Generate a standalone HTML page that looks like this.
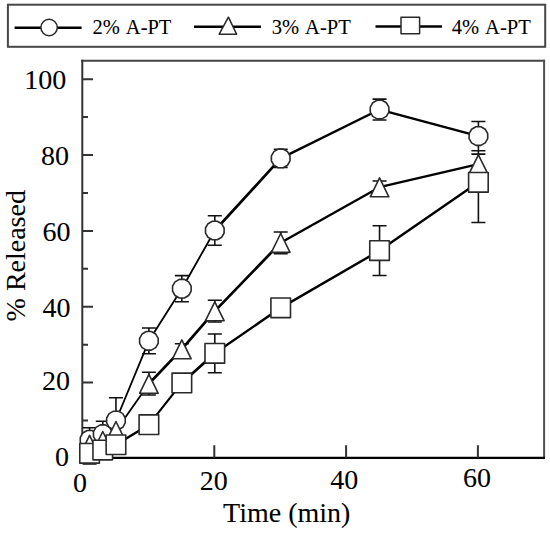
<!DOCTYPE html>
<html><head><meta charset="utf-8"><style>
html,body{margin:0;padding:0;background:#fff;}
svg{display:block;}
text{font-family:"Liberation Serif",serif;fill:#000;stroke:#000;stroke-width:0.08px;}
</style></head><body>
<svg width="550" height="533" viewBox="0 0 550 533">
<rect width="550" height="533" fill="#fff"/>
<rect x="7.9" y="4.7" width="537.3" height="42.1" fill="none" stroke="#474747" stroke-width="2"/>
<path d="M14.6 27.7H81.6M194 26.7H260.9M375.5 26.5H442" stroke="#000" stroke-width="2.6"/>
<circle cx="49.1" cy="27.5" r="8.2" fill="#fff" stroke="#2a2a2a" stroke-width="1.5"/>
<path d="M228.4 17.2L236.6 34.2H219.2Z" fill="#fff" stroke="#2a2a2a" stroke-width="1.5" stroke-linejoin="round"/>
<rect x="401" y="17.2" width="18.6" height="16.6" fill="#fff" stroke="#2a2a2a" stroke-width="1.5" stroke-linejoin="round"/>
<g font-size="20.5px" word-spacing="2px" style="stroke-width:0.15px"><text x="92.5" y="33.8">2% A-PT</text><text x="271.8" y="33.8">3% A-PT</text><text x="451.8" y="33.8">4% A-PT</text></g>
<g font-size="28px">
<text x="66.3" y="89.0" text-anchor="end">100</text>
<text x="69.1" y="165.2" text-anchor="end">80</text>
<text x="70.5" y="241.1" text-anchor="end">60</text>
<text x="70.5" y="316.6" text-anchor="end">40</text>
<text x="70.0" y="390.2" text-anchor="end">20</text>
<text x="69.1" y="466.1" text-anchor="end">0</text>
<text x="80.0" y="492.2" text-anchor="middle">0</text>
<text x="213.8" y="489.8" text-anchor="middle">20</text>
<text x="344.3" y="488.5" text-anchor="middle">40</text>
<text x="477.05" y="487.2" text-anchor="middle">60</text>
<text x="286.7" y="521.6" text-anchor="middle">Time (min)</text>
<text transform="translate(24.5 255.75) rotate(-90)" text-anchor="middle">% Released</text>
</g>
<path d="M81.3 60.8H545.1" stroke="#444" stroke-width="2"/>
<path d="M544.1 59.8V458" stroke="#505050" stroke-width="2"/>
<path d="M82.3 59.8V458" stroke="#333" stroke-width="2"/>
<path d="M81.3 457.9H545" stroke="#000" stroke-width="2.4"/>
<path d="M82.3 382.56H93M82.3 306.72H93M82.3 230.88H93M82.3 155.04H93M82.3 79.20H93M82.3 420.48H88M82.3 344.64H88M82.3 268.80H88M82.3 192.96H88M82.3 117.12H88M214.30 457.7V445.3M346.10 457.7V445.3M477.90 457.7V445.3" stroke="#333" stroke-width="2" fill="none"/>
<path d="M89.59 427.68V451.95M82.59 427.68H96.59M82.59 451.95H96.59M102.77 421.24V447.02M95.77 421.24H109.77M95.77 447.02H109.77M115.95 397.73V443.23M108.95 397.73H122.95M108.95 443.23H122.95M148.90 327.96V353.74M141.90 327.96H155.90M141.90 353.74H155.90M181.85 275.66V301.75M174.85 275.66H188.85M174.85 301.75H188.85M214.80 215.71V245.29M207.80 215.71H221.80M207.80 245.29H221.80M280.70 149.35V167.55M273.70 149.35H287.70M273.70 167.55H287.70M379.55 99.11V119.96M372.55 99.11H386.55M372.55 119.96H386.55M478.40 121.48V150.68M471.40 121.48H485.40M471.40 150.68H485.40M148.90 372.32V395.07M141.90 372.32H155.90M141.90 395.07H155.90M181.85 343.81V354.58M174.85 343.81H188.85M174.85 354.58H188.85M214.80 300.20V321.96M207.80 300.20H221.80M207.80 321.96H221.80M280.70 231.98V253.59M273.70 231.98H287.70M273.70 253.59H287.70M379.55 181.02V193.38M372.55 181.02H386.55M372.55 193.38H386.55M478.40 154.09V174.11M471.40 154.09H485.40M471.40 174.11H485.40M89.59 442.74V463.97M82.59 442.74H96.59M82.59 463.97H96.59M214.80 334.02V372.70M207.80 334.02H221.80M207.80 372.70H221.80M379.55 225.76V275.44M372.55 225.76H386.55M372.55 275.44H386.55M478.40 142.15V222.54M471.40 142.15H485.40M471.40 222.54H485.40" stroke="#111" stroke-width="1.6" fill="none"/>
<path d="M89.59 439.82L102.77 434.13" stroke="#000" stroke-width="2.4" stroke-linecap="round"/>
<path d="M102.77 434.13L115.95 420.48" stroke="#000" stroke-width="2.7" stroke-linecap="round"/>
<path d="M115.95 420.48L148.90 340.85" stroke="#000" stroke-width="1.8" stroke-linecap="round"/>
<path d="M148.90 340.85L181.85 288.71" stroke="#000" stroke-width="1.8" stroke-linecap="round"/>
<path d="M181.85 288.71L214.80 230.50" stroke="#000" stroke-width="1.8" stroke-linecap="round"/>
<path d="M214.80 230.50L280.70 158.45" stroke="#000" stroke-width="2.7" stroke-linecap="round"/>
<path d="M280.70 158.45L379.55 109.54" stroke="#000" stroke-width="2.4" stroke-linecap="round"/>
<path d="M379.55 109.54L478.40 136.08" stroke="#000" stroke-width="2.4" stroke-linecap="round"/>
<path d="M89.59 444.71L102.77 440.81" stroke="#000" stroke-width="2.4" stroke-linecap="round"/>
<path d="M102.77 440.81L115.95 430.79" stroke="#000" stroke-width="2.7" stroke-linecap="round"/>
<path d="M115.95 430.79L148.90 383.70" stroke="#000" stroke-width="1.8" stroke-linecap="round"/>
<path d="M148.90 383.70L181.85 349.19" stroke="#000" stroke-width="2.7" stroke-linecap="round"/>
<path d="M181.85 349.19L214.80 311.08" stroke="#000" stroke-width="2.7" stroke-linecap="round"/>
<path d="M214.80 311.08L280.70 242.79" stroke="#000" stroke-width="2.7" stroke-linecap="round"/>
<path d="M280.70 242.79L379.55 187.20" stroke="#000" stroke-width="2.4" stroke-linecap="round"/>
<path d="M379.55 187.20L478.40 164.10" stroke="#000" stroke-width="2.4" stroke-linecap="round"/>
<path d="M89.59 453.36L102.77 450.06" stroke="#000" stroke-width="2.4" stroke-linecap="round"/>
<path d="M102.77 450.06L115.95 444.75" stroke="#000" stroke-width="2.4" stroke-linecap="round"/>
<path d="M115.95 444.75L148.90 424.65" stroke="#000" stroke-width="2.4" stroke-linecap="round"/>
<path d="M148.90 424.65L181.85 382.94" stroke="#000" stroke-width="2.2" stroke-linecap="round"/>
<path d="M181.85 382.94L214.80 353.36" stroke="#000" stroke-width="2.7" stroke-linecap="round"/>
<path d="M214.80 353.36L280.70 307.86" stroke="#000" stroke-width="2.4" stroke-linecap="round"/>
<path d="M280.70 307.86L379.55 250.60" stroke="#000" stroke-width="2.4" stroke-linecap="round"/>
<path d="M379.55 250.60L478.40 182.34" stroke="#000" stroke-width="2.4" stroke-linecap="round"/>
<path d="M98.89 442.31L96.40 446.63L92.08 449.12L87.10 449.12L82.78 446.63L80.29 442.31L80.29 437.33L82.78 433.01L87.10 430.52L92.08 430.52L96.40 433.01L98.89 437.33Z" fill="#fff" stroke="#2a2a2a" stroke-width="1.6" stroke-linejoin="round"/>
<path d="M112.07 436.62L109.58 440.94L105.26 443.43L100.28 443.43L95.96 440.94L93.47 436.62L93.47 431.64L95.96 427.32L100.28 424.83L105.26 424.83L109.58 427.32L112.07 431.64Z" fill="#fff" stroke="#2a2a2a" stroke-width="1.6" stroke-linejoin="round"/>
<path d="M125.25 422.97L122.76 427.29L118.44 429.78L113.46 429.78L109.14 427.29L106.65 422.97L106.65 417.99L109.14 413.67L113.46 411.18L118.44 411.18L122.76 413.67L125.25 417.99Z" fill="#fff" stroke="#2a2a2a" stroke-width="1.6" stroke-linejoin="round"/>
<path d="M158.20 343.34L155.71 347.66L151.39 350.15L146.41 350.15L142.09 347.66L139.60 343.34L139.60 338.36L142.09 334.04L146.41 331.55L151.39 331.55L155.71 334.04L158.20 338.36Z" fill="#fff" stroke="#2a2a2a" stroke-width="1.6" stroke-linejoin="round"/>
<path d="M191.15 291.20L188.66 295.52L184.34 298.01L179.36 298.01L175.04 295.52L172.55 291.20L172.55 286.22L175.04 281.90L179.36 279.41L184.34 279.41L188.66 281.90L191.15 286.22Z" fill="#fff" stroke="#2a2a2a" stroke-width="1.6" stroke-linejoin="round"/>
<path d="M224.10 232.99L221.61 237.31L217.29 239.80L212.31 239.80L207.99 237.31L205.50 232.99L205.50 228.01L207.99 223.69L212.31 221.20L217.29 221.20L221.61 223.69L224.10 228.01Z" fill="#fff" stroke="#2a2a2a" stroke-width="1.6" stroke-linejoin="round"/>
<path d="M290.00 160.94L287.51 165.26L283.19 167.75L278.21 167.75L273.89 165.26L271.40 160.94L271.40 155.96L273.89 151.64L278.21 149.15L283.19 149.15L287.51 151.64L290.00 155.96Z" fill="#fff" stroke="#2a2a2a" stroke-width="1.6" stroke-linejoin="round"/>
<path d="M388.85 112.03L386.36 116.34L382.04 118.84L377.06 118.84L372.74 116.34L370.25 112.03L370.25 107.04L372.74 102.73L377.06 100.24L382.04 100.24L386.36 102.73L388.85 107.04Z" fill="#fff" stroke="#2a2a2a" stroke-width="1.6" stroke-linejoin="round"/>
<path d="M487.70 138.57L485.21 142.89L480.89 145.38L475.91 145.38L471.59 142.89L469.10 138.57L469.10 133.59L471.59 129.27L475.91 126.78L480.89 126.78L485.21 129.27L487.70 133.59Z" fill="#fff" stroke="#2a2a2a" stroke-width="1.6" stroke-linejoin="round"/>
<path d="M89.59 435.41L98.89 454.31H80.29Z" fill="#fff" stroke="#2a2a2a" stroke-width="1.6" stroke-linejoin="round"/>
<path d="M102.77 431.51L112.07 450.41H93.47Z" fill="#fff" stroke="#2a2a2a" stroke-width="1.6" stroke-linejoin="round"/>
<path d="M115.95 421.49L125.25 440.39H106.65Z" fill="#fff" stroke="#2a2a2a" stroke-width="1.6" stroke-linejoin="round"/>
<path d="M148.90 374.40L158.20 393.30H139.60Z" fill="#fff" stroke="#2a2a2a" stroke-width="1.6" stroke-linejoin="round"/>
<path d="M181.85 339.89L191.15 358.79H172.55Z" fill="#fff" stroke="#2a2a2a" stroke-width="1.6" stroke-linejoin="round"/>
<path d="M214.80 301.78L224.10 320.68H205.50Z" fill="#fff" stroke="#2a2a2a" stroke-width="1.6" stroke-linejoin="round"/>
<path d="M280.70 233.49L290.00 252.39H271.40Z" fill="#fff" stroke="#2a2a2a" stroke-width="1.6" stroke-linejoin="round"/>
<path d="M379.55 177.90L388.85 196.80H370.25Z" fill="#fff" stroke="#2a2a2a" stroke-width="1.6" stroke-linejoin="round"/>
<path d="M478.40 154.80L487.70 173.70H469.10Z" fill="#fff" stroke="#2a2a2a" stroke-width="1.6" stroke-linejoin="round"/>
<rect x="79.79" y="443.56" width="19.60" height="19.60" fill="#fff" stroke="#2a2a2a" stroke-width="1.6" stroke-linejoin="round"/>
<rect x="92.97" y="440.26" width="19.60" height="19.60" fill="#fff" stroke="#2a2a2a" stroke-width="1.6" stroke-linejoin="round"/>
<rect x="106.15" y="434.95" width="19.60" height="19.60" fill="#fff" stroke="#2a2a2a" stroke-width="1.6" stroke-linejoin="round"/>
<rect x="139.10" y="414.85" width="19.60" height="19.60" fill="#fff" stroke="#2a2a2a" stroke-width="1.6" stroke-linejoin="round"/>
<rect x="172.05" y="373.14" width="19.60" height="19.60" fill="#fff" stroke="#2a2a2a" stroke-width="1.6" stroke-linejoin="round"/>
<rect x="205.00" y="343.56" width="19.60" height="19.60" fill="#fff" stroke="#2a2a2a" stroke-width="1.6" stroke-linejoin="round"/>
<rect x="270.90" y="298.06" width="19.60" height="19.60" fill="#fff" stroke="#2a2a2a" stroke-width="1.6" stroke-linejoin="round"/>
<rect x="369.75" y="240.80" width="19.60" height="19.60" fill="#fff" stroke="#2a2a2a" stroke-width="1.6" stroke-linejoin="round"/>
<rect x="468.60" y="172.54" width="19.60" height="19.60" fill="#fff" stroke="#2a2a2a" stroke-width="1.6" stroke-linejoin="round"/>
</svg>
</body></html>
